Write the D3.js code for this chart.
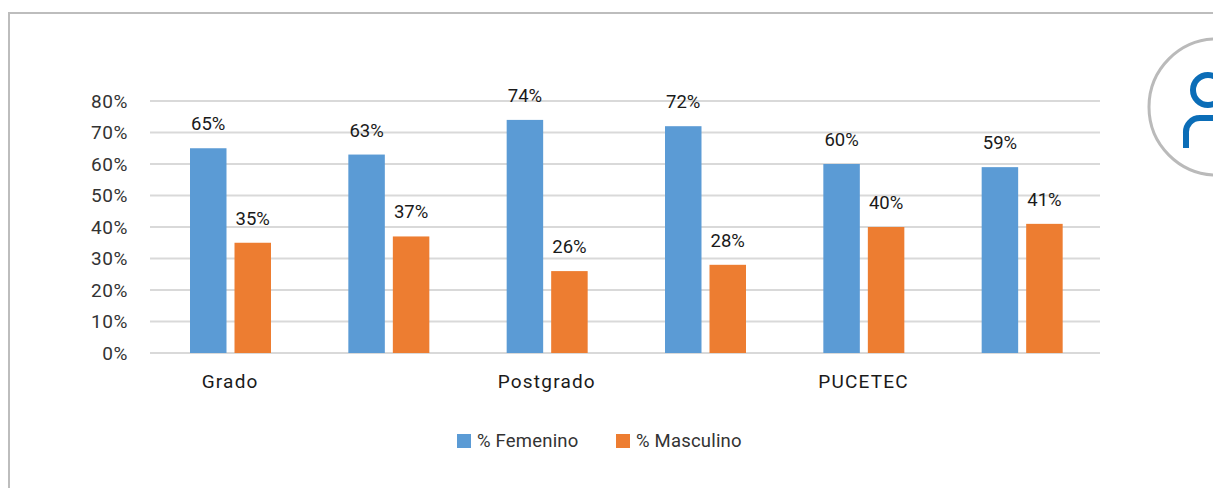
<!DOCTYPE html>
<html>
<head>
<meta charset="utf-8">
<script src="https://cdn.jsdelivr.net/npm/d3@7"></script>
<style>
body { margin: 0; background: #fff; }
svg { display: block; font-family: Roboto, "Noto Sans", sans-serif; }
</style>
</head>
<body>
<script>
// chart data
var categories = ["Grado", "", "Postgrado", "", "PUCETEC", ""];
var femenino = [65, 63, 74, 72, 60, 59];
var masculino = [35, 37, 26, 28, 40, 41];
var seriesNames = ["% Femenino", "% Masculino"];
var seriesColors = ["#5B9BD5", "#ED7D31"];
var yTicks = [0, 10, 20, 30, 40, 50, 60, 70, 80];

var W = 1213, H = 488;
var svg = d3.select("body").append("svg")
    .attr("width", W)
    .attr("height", H);

// outer frame
svg.append("path")
    .attr("d", "M9,500 V13 H1220")
    .attr("fill", "none")
    .attr("stroke", "#bdbdbd")
    .attr("stroke-width", 2);

var x0 = d3.scaleBand()
    .domain(d3.range(categories.length))
    .range([150, 1100]);

var x1 = d3.scaleBand()
    .domain([0, 1])
    .range([40, 121])
    .paddingInner(0.18);

var y = d3.scaleLinear()
    .domain([0, 80])
    .range([353, 101]);

// gridlines
svg.append("g").selectAll("line")
    .data(yTicks)
    .enter().append("line")
    .attr("x1", 150)
    .attr("x2", 1100)
    .attr("y1", function(d){ return y(d); })
    .attr("y2", function(d){ return y(d); })
    .attr("stroke", "#d9d9d9")
    .attr("stroke-width", 2);

// y labels
svg.append("g").selectAll("text")
    .data(yTicks)
    .enter().append("text")
    .attr("x", 128)
    .attr("y", function(d){ return y(d); })
    .attr("dy", "0.36em")
    .attr("text-anchor", "end")
    .attr("font-size", 19)
    .attr("letter-spacing", 0.6)
    .attr("fill", "#333")
    .text(function(d){ return d + "%"; });

var rows = categories.map(function(c, i){
    return [femenino[i], masculino[i]];
});

var groups = svg.append("g").selectAll("g")
    .data(rows)
    .enter().append("g")
    .attr("transform", function(d, i){ return "translate(" + x0(i) + ",0)"; });

groups.selectAll("rect")
    .data(function(d){ return d; })
    .enter().append("rect")
    .attr("x", function(d, j){ return x1(j); })
    .attr("width", x1.bandwidth())
    .attr("y", function(d){ return y(d); })
    .attr("height", function(d){ return y(0) - y(d); })
    .attr("fill", function(d, j){ return seriesColors[j]; });

groups.selectAll("text")
    .data(function(d){ return d; })
    .enter().append("text")
    .attr("x", function(d, j){ return x1(j) + x1.bandwidth() / 2; })
    .attr("y", function(d){ return y(d) - 18; })
    .attr("text-anchor", "middle")
    .attr("font-size", 18.5)
    .attr("fill", "#1a1a1a")
    .text(function(d){ return d + "%"; });

// category labels
svg.append("g").selectAll("text")
    .data(categories)
    .enter().append("text")
    .attr("x", function(d, i){ return x0(i) + x0.bandwidth() / 2 + 1; })
    .attr("y", 388)
    .attr("text-anchor", "middle")
    .attr("font-size", 19)
    .attr("letter-spacing", 1.2)
    .attr("fill", "#1a1a1a")
    .text(function(d){ return d; });

// legend
var legendX = [457, 616];
var legend = svg.append("g").selectAll("g")
    .data(seriesNames)
    .enter().append("g")
    .attr("transform", function(d, i){ return "translate(" + legendX[i] + ",434)"; });
legend.append("rect")
    .attr("width", 14)
    .attr("height", 14)
    .attr("fill", function(d, i){ return seriesColors[i]; });
legend.append("text")
    .attr("x", 20)
    .attr("y", 13)
    .attr("font-size", 18.5)
    .attr("letter-spacing", 0.2)
    .attr("fill", "#333")
    .text(function(d){ return d; });

// logo at the right edge
svg.append("circle")
    .attr("cx", 1217)
    .attr("cy", 107)
    .attr("r", 68)
    .attr("fill", "#fff")
    .attr("stroke", "#bababa")
    .attr("stroke-width", 3);
svg.append("circle")
    .attr("cx", 1208)
    .attr("cy", 90)
    .attr("r", 15)
    .attr("fill", "none")
    .attr("stroke", "#0b6db7")
    .attr("stroke-width", 6);
svg.append("path")
    .attr("d", "M1186,148 V133 A14,14 0 0 1 1200,118 H1225")
    .attr("fill", "none")
    .attr("stroke", "#0b6db7")
    .attr("stroke-width", 6);
</script>
</body>
</html>
